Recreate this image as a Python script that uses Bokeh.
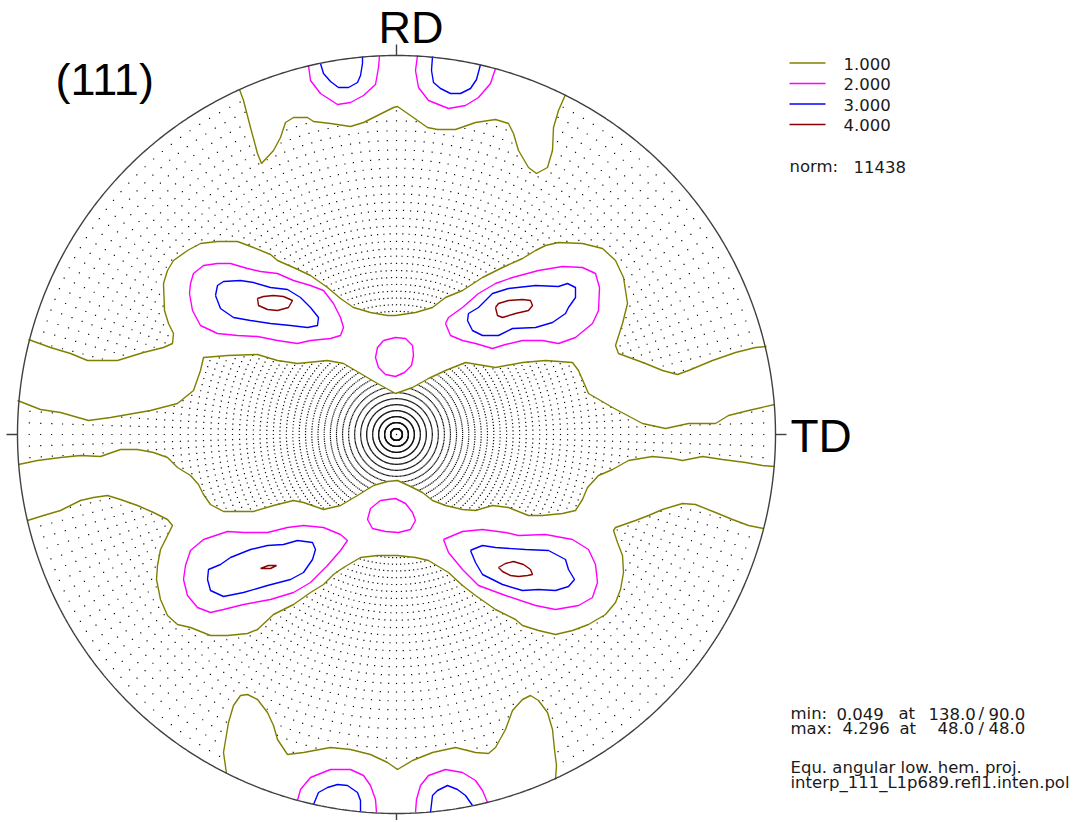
import numpy as np
from bokeh.plotting import figure
from bokeh.models import Range1d
from bokeh.core.properties import value
from bokeh.embed import file_html
from bokeh.resources import INLINE

# ---------------- data (projection plane, primitive circle radius = 379 units) ----------------
R = 379.0
CHI_STEP = 1.8     # tilt step of measurement grid (deg)
PHI_STEP = 1.8     # azimuth step of measurement grid (deg)

LEVELS = ["1.000", "2.000", "3.000", "4.000"]
LEVEL_COLORS = ["#808000", "#ff00ff", "#0000ff", "#8b0000"]

# level 1.000
TOP_CAP_1 = [(-157,345),(-153,334),(-146,307),(-139,281),(-135,271),(-123,284),(-116,297),(-111,312),
             (-103,317),(-89,317),(-83,313),(-66,311),(-46,308),(-33,312),(-19,319),(-3,327),(1,328),
             (14,319),(31,307),(41,305),(59,305),(79,312),(99,315),(112,311),(117,301),(122,284),
             (132,267),(140,261),(151,267),(156,284),(157,307),(162,324),(169,340)]
UPPER_BAND_TOP_1 = [(-368,95),(-346,87),(-326,81),(-309,74),(-279,74),(-253,82),(-233,87),(-224,91),
                    (-223,101),(-228,111),(-232,124),(-233,151),(-229,164),(-223,174),(-209,184),
                    (-196,191),(-179,193),(-159,193),(-143,187),(-126,180),(-119,174),(-103,167),
                    (-86,159),(-69,147),(-56,136),(-43,127),(-26,122),(-9,119),(-1,119),(19,122),
                    (36,127),(49,137),(66,144),(86,157),(106,167),(126,176),(139,184),(149,189),
                    (162,192),(186,191),(206,186),(219,174),(227,157),(231,131),(226,111),(219,89),
                    (222,81),(249,71),(266,64),(281,60),(292,64),(316,74),(339,82),(359,87),(370,88)]
UPPER_BAND_BOTTOM_1 = [(-379,34),(-356,25),(-336,22),(-308,14),(-286,17),(-246,24),(-219,31),(-203,44),
                       (-196,64),(-193,77),(-169,79),(-139,80),(-119,74),(-99,71),(-69,74),(-53,71),
                       (-36,61),(-19,51),(-1,41),(16,47),(32,56),(49,64),(69,72),(99,67),(126,72),
                       (149,74),(176,72),(182,64),(192,41),(216,27),(246,11),(269,6),(292,11),(319,11),
                       (332,19),(352,24),(378,30)]
LOWER_BAND_TOP_1 = [(-378,-30),(-359,-26),(-336,-23),(-316,-21),(-296,-22),(-276,-15),(-259,-15),
                    (-243,-18),(-229,-23),(-219,-33),(-206,-41),(-198,-50),(-193,-60),(-186,-70),
                    (-173,-77),(-143,-77),(-123,-71),(-103,-66),(-93,-68),(-73,-75),(-56,-71),
                    (-39,-61),(-23,-51),(-9,-47),(1,-46),(12,-51),(26,-58),(36,-66),(49,-71),(66,-75),
                    (79,-76),(96,-71),(112,-73),(132,-81),(146,-81),(166,-79),(179,-76),(186,-65),
                    (191,-53),(202,-41),(216,-35),(232,-26),(256,-22),(276,-24),(286,-26),(306,-22),
                    (326,-25),(349,-28),(366,-31),(378,-32)]
LOWER_BAND_BOTTOM_1 = [(-369,-86),(-353,-81),(-336,-76),(-316,-66),(-303,-63),(-289,-61),(-276,-65),
                       (-259,-71),(-243,-78),(-229,-85),(-224,-91),(-229,-101),(-236,-115),(-239,-131),
                       (-240,-145),(-236,-165),(-229,-181),(-219,-190),(-206,-193),(-186,-201),
                       (-169,-201),(-149,-199),(-139,-195),(-123,-180),(-103,-170),(-86,-158),
                       (-73,-150),(-63,-140),(-53,-133),(-36,-123),(-19,-121),(1,-121),(19,-123),
                       (32,-126),(52,-138),(66,-151),(79,-161),(99,-175),(119,-185),(126,-191),
                       (142,-196),(159,-200),(176,-196),(192,-190),(209,-180),(219,-168),(224,-155),
                       (227,-138),(226,-121),(221,-108),(217,-96),(219,-93),(239,-86),(252,-81),
                       (266,-75),(286,-69),(299,-70),(319,-78),(336,-85),(352,-91),(367,-94)]
BOTTOM_CAP_1 = [(-170,-339),(-173,-318),(-168,-288),(-163,-271),(-156,-261),(-149,-260),(-139,-265),
                (-129,-278),(-123,-291),(-119,-305),(-109,-320),(-93,-318),(-66,-313),(-46,-315),
                (-26,-320),(-9,-328),(1,-335),(16,-326),(36,-318),(59,-313),(79,-318),(92,-319),
                (99,-313),(109,-295),(116,-276),(126,-265),(134,-261),(142,-266),(151,-278),
                (156,-295),(158,-315),(160,-331),(159,-345)]

# level 2.000
TOP_LEFT_2 = [(-88,369),(-86,354),(-76,341),(-59,330),(-46,332),(-33,339),(-21,350),(-18,367),(-17,379)]
TOP_RIGHT_2 = [(21,379),(19,364),(22,347),(32,334),(52,326),(69,329),(82,337),(94,351),(99,366)]
BOTTOM_LEFT_2 = [(-99,-366),(-96,-355),(-86,-343),(-66,-335),(-46,-335),(-33,-341),(-26,-351),(-21,-365),(-20,-378)]
BOTTOM_RIGHT_2 = [(19,-378),(20,-365),(24,-351),(32,-341),(49,-335),(66,-338),(79,-346),(86,-356),(91,-368)]
UL_2 = [(-206,151),(-203,161),(-193,169),(-179,171),(-166,171),(-149,166),(-136,163),(-119,161),
        (-103,154),(-86,149),(-73,144),(-63,131),(-56,117),(-53,107),(-56,99),(-66,96),(-86,94),
        (-99,91),(-119,94),(-139,98),(-159,99),(-179,101),(-196,109),(-204,124),(-207,141)]
UR_2 = [(49,111),(52,117),(66,127),(82,141),(99,151),(116,157),(142,164),(166,168),(186,167),
        (199,161),(203,147),(202,124),(196,111),(179,97),(162,91),(146,94),(126,94),(109,90),
        (96,86),(79,91),(66,94),(54,99)]
UC_2 = [(-13,94),(-1,97),(9,96),(16,89),(17,79),(15,69),(8,62),(-1,58),(-11,60),(-18,67),(-21,77),(-19,87)]
LC_2 = [(-16,-66),(-1,-64),(9,-69),(16,-78),(19,-86),(14,-95),(2,-98),(-11,-97),(-24,-94),(-29,-85),(-26,-74)]
LL_2 = [(-213,-145),(-211,-131),(-206,-116),(-193,-105),(-169,-97),(-153,-98),(-129,-98),(-109,-93),
        (-93,-91),(-73,-93),(-56,-100),(-49,-106),(-56,-116),(-69,-131),(-86,-148),(-103,-158),
        (-126,-165),(-153,-170),(-173,-175),(-186,-178),(-199,-173),(-209,-161)]
LR_2 = [(47,-105),(52,-118),(66,-135),(82,-151),(109,-161),(139,-171),(159,-175),(182,-171),
        (196,-163),(201,-148),(199,-130),(192,-115),(176,-105),(149,-100),(122,-101),(109,-98),
        (86,-95),(66,-97)]

# level 3.000
TOP_LEFT_3 = [(-76,371),(-73,361),(-66,353),(-58,347),(-48,347),(-39,352),(-36,359),(-34,371),(-34,378)]
TOP_RIGHT_3 = [(36,378),(35,364),(37,352),(44,346),(54,341),(64,341),(74,346),(80,355),(84,370)]
BOTTOM_LEFT_3 = [(-83,-370),(-78,-358),(-69,-353),(-59,-350),(-49,-351),(-39,-358),(-36,-366),(-36,-377)]
BOTTOM_RIGHT_3 = [(34,-378),(36,-361),(41,-356),(51,-351),(61,-355),(69,-361),(76,-371)]
UL_3 = [(-181,139),(-179,149),(-173,153),(-156,154),(-143,152),(-126,147),(-109,145),(-96,137),
        (-86,127),(-78,117),(-79,109),(-89,107),(-106,109),(-126,111),(-146,114),(-163,117),(-176,126)]
UR_3 = [(71,114),(72,121),(82,127),(96,141),(112,146),(139,149),(162,148),(171,151),(179,147),
        (179,137),(172,127),(169,121),(156,112),(139,107),(116,106),(102,99),(86,99),(76,104)]
LL_3 = [(-189,-145),(-188,-135),(-176,-130),(-166,-123),(-146,-115),(-129,-111),(-113,-110),(-99,-106),
        (-84,-108),(-81,-115),(-84,-125),(-93,-138),(-106,-145),(-129,-151),(-153,-158),(-173,-162),(-186,-156)]
LR_3 = [(74,-116),(79,-128),(86,-140),(106,-150),(126,-156),(142,-155),(159,-156),(172,-152),
        (178,-145),(172,-135),(169,-125),(152,-116),(129,-115),(99,-113),(86,-111),(76,-115)]

# level 4.000
UL_4 = [(-139,136),(-133,138),(-123,139),(-113,138),(-104,134),(-108,127),(-119,124),(-129,125),(-138,129)]
UR_4 = [(99,127),(102,131),(112,134),(126,135),(134,134),(136,129),(132,124),(119,121),(106,117),(101,119)]
LL_4 = [(-136,-134),(-128,-131),(-120,-131),(-126,-134)]
LR_4 = [(102,-133),(109,-129),(117,-127),(127,-130),(134,-135),(136,-140),(131,-141),(122,-142),(114,-141),(106,-137)]

OPEN = {
    0: [TOP_CAP_1, UPPER_BAND_TOP_1, UPPER_BAND_BOTTOM_1, LOWER_BAND_TOP_1, LOWER_BAND_BOTTOM_1, BOTTOM_CAP_1],
    1: [TOP_LEFT_2, TOP_RIGHT_2, BOTTOM_LEFT_2, BOTTOM_RIGHT_2],
    2: [TOP_LEFT_3, TOP_RIGHT_3, BOTTOM_LEFT_3, BOTTOM_RIGHT_3],
    3: [],
}
CLOSED = {
    0: [],
    1: [UL_2, UR_2, UC_2, LC_2, LL_2, LR_2],
    2: [UL_3, UR_3, LL_3, LR_3],
    3: [UL_4, UR_4, LL_4, LR_4],
}

NORM = "11438"
MIN_ROW = ["min:", "0.049", "at", "138.0", "/", "90.0"]
MAX_ROW = ["max:", "4.296", "at", "48.0", "/", "48.0"]
PROJ_TEXT = "Equ. angular low. hem. proj."
FILE_TEXT = "interp_111_L1p689.refl1.inten.pol"
TITLE = "(111)"

# ---------------- helpers ----------------
def arc(a0, a1, rad, n=40):
    t = np.radians(np.linspace(a0, a1, n))
    return list(zip(rad * np.cos(t), rad * np.sin(t)))

def region(parts):
    pts = []
    for i, part in enumerate(parts):
        pts += list(part)
        nxt = parts[(i + 1) % len(parts)]
        a0 = np.degrees(np.arctan2(part[-1][1], part[-1][0]))
        a1 = np.degrees(np.arctan2(nxt[0][1], nxt[0][0]))
        pts += arc(a0, a1, R + 12)
    return np.array(pts, dtype=float)

def inside(px, py, poly):
    res = np.zeros(px.shape, dtype=bool)
    xs, ys = poly[:, 0], poly[:, 1]
    j = len(xs) - 1
    for i in range(len(xs)):
        xi, yi, xj, yj = xs[i], ys[i], xs[j], ys[j]
        cond = ((yi > py) != (yj > py)) & (px < (xj - xi) * (py - yi) / (yj - yi + 1e-12) + xi)
        res ^= cond
        j = i
    return res

# ---------------- figure ----------------
W, H = 1080, 820
p = figure(width=W, height=H, x_range=Range1d(-396, -396 + W), y_range=Range1d(434 - H, 434),
           output_backend="svg", toolbar_location=None, min_border=0,
           x_axis_type=None, y_axis_type=None)
p.outline_line_color = None
p.background_fill_color = "white"
p.border_fill_color = "white"

# measurement grid dots where intensity < 1
chi = np.arange(CHI_STEP, 90.0 - 1e-6, CHI_STEP)
phi = np.arange(0.0, 360.0 - 1e-6, PHI_STEP)
C, P = np.meshgrid(chi, phi)
rr = R * np.tan(np.radians(C) / 2.0)
gx = np.concatenate([[0.0], (rr * np.cos(np.radians(P))).ravel()])
gy = np.concatenate([[0.0], (rr * np.sin(np.radians(P))).ravel()])

high = [region([TOP_CAP_1]),
        region([UPPER_BAND_TOP_1, UPPER_BAND_BOTTOM_1[::-1]]),
        region([LOWER_BAND_TOP_1, LOWER_BAND_BOTTOM_1[::-1]]),
        region([BOTTOM_CAP_1])]
mask = np.zeros(gx.shape, dtype=bool)
for poly in high:
    mask |= inside(gx, gy, poly)
p.scatter(gx[~mask], gy[~mask], marker="square", size=1.2, fill_color="#111111",
          line_color=None)

# contour lines
for k, col in enumerate(LEVEL_COLORS):
    xs, ys = [], []
    for c in OPEN[k]:
        xs.append([q[0] for q in c]); ys.append([q[1] for q in c])
    for c in CLOSED[k]:
        cc = list(c) + [c[0]]
        xs.append([q[0] for q in cc]); ys.append([q[1] for q in cc])
    if xs:
        p.multi_line(xs=xs, ys=ys, line_color=col, line_width=1.4)

# primitive circle and ticks
t = np.linspace(0, 2 * np.pi, 721)
p.line(R * np.cos(t), R * np.sin(t), line_color="#404040", line_width=1.4)
TICK = 11
p.segment(x0=[0, 0, -R, R], y0=[R, -R, 0, 0], x1=[0, 0, -R - TICK, R + TICK],
          y1=[R + TICK, -R - TICK, 0, 0], line_color="#404040", line_width=1.4)

BIG = value("Liberation Sans")
p.text(x=[-18], y=[407], text=["RD"], text_font=BIG, text_font_size=value("45px"),
       text_color="black", text_baseline="alphabetic", text_align="left")
p.text(x=[394], y=[-1], text=["TD"], text_font=BIG, text_font_size=value("46px"),
       text_color="black", text_baseline="alphabetic", text_align="left")
p.text(x=[-341], y=[355], text=[TITLE], text_font=BIG, text_font_size=value("45px"),
       text_color="black", text_baseline="alphabetic", text_align="left")

# legend
SMALL = value("DejaVu Sans")
FS = value("16.5px")
ly = [371.5 - 20.5 * i for i in range(len(LEVELS))]
p.segment(x0=[393] * 4, x1=[429] * 4, y0=ly, y1=ly, line_color=LEVEL_COLORS, line_width=1.6)
p.text(x=[447] * 4, y=[v - 0.5 for v in ly], text=LEVELS, text_font=SMALL,
       text_font_size=FS, text_color="#1a1a1a", text_baseline="alphabetic")
p.text(x=[393, 457], y=[268, 268], text=["norm:", NORM], text_font=SMALL,
       text_font_size=FS, text_color="#1a1a1a", text_baseline="alphabetic")

# statistics / info
row_x1 = [394, 440, 502, 532, 582, 592]
row_x2 = [394, 446, 503, 541, 582, 592]
p.text(x=row_x1, y=[-279] * 6, text=MIN_ROW, text_font=SMALL, text_font_size=FS,
       text_color="#1a1a1a", text_baseline="alphabetic")
p.text(x=row_x2, y=[-293.5] * 6, text=MAX_ROW, text_font=SMALL, text_font_size=FS,
       text_color="#1a1a1a", text_baseline="alphabetic")
p.text(x=[394, 394], y=[-333, -347.5], text=[PROJ_TEXT, FILE_TEXT], text_font=SMALL,
       text_font_size=FS, text_color="#1a1a1a", text_baseline="alphabetic")

open("out.html", "w").write(file_html(p, INLINE))
